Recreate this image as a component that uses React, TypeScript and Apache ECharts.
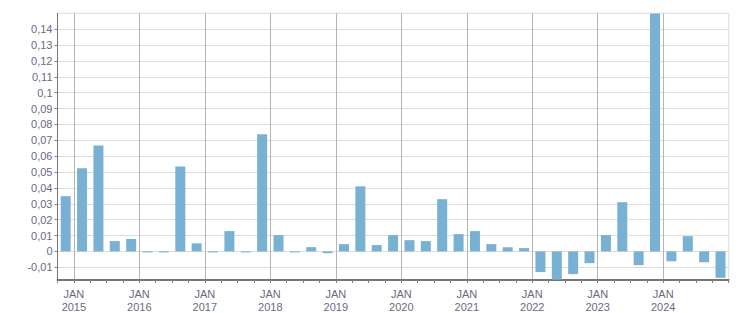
import React, { useEffect, useRef } from "react";
import * as echarts from "echarts";

// Quarterly periods, Q4 2014 .. Q4 2024
const quarters = [
  "2014Q4",
  "2015Q1", "2015Q2", "2015Q3", "2015Q4",
  "2016Q1", "2016Q2", "2016Q3", "2016Q4",
  "2017Q1", "2017Q2", "2017Q3", "2017Q4",
  "2018Q1", "2018Q2", "2018Q3", "2018Q4",
  "2019Q1", "2019Q2", "2019Q3", "2019Q4",
  "2020Q1", "2020Q2", "2020Q3", "2020Q4",
  "2021Q1", "2021Q2", "2021Q3", "2021Q4",
  "2022Q1", "2022Q2", "2022Q3", "2022Q4",
  "2023Q1", "2023Q2", "2023Q3", "2023Q4",
  "2024Q1", "2024Q2", "2024Q3", "2024Q4",
];

const values = [
  0.0348,
  0.0524, 0.0668, 0.0065, 0.0078,
  -0.0004, -0.0004, 0.0535, 0.0051,
  -0.0004, 0.0128, -0.0003, 0.0738,
  0.0103, -0.0003, 0.0027, -0.0011,
  0.0046, 0.041, 0.004, 0.0103,
  0.0071, 0.0065, 0.0329, 0.0109,
  0.0128, 0.0046, 0.0027, 0.0021,
  -0.013, -0.0178, -0.0143, -0.0074,
  0.0103, 0.031, -0.0086, 0.1498,
  -0.0062, 0.0096, -0.0068, -0.0166,
];

const yTickValues = [
  -0.01, 0, 0.01, 0.02, 0.03, 0.04, 0.05, 0.06, 0.07, 0.08, 0.09, 0.1, 0.11,
  0.12, 0.13, 0.14,
];

export default function App() {
  const ref = useRef<HTMLDivElement>(null);

  useEffect(() => {
    if (!ref.current) return;
    const chart = echarts.init(ref.current, undefined, { renderer: "svg" });

    const n = quarters.length;
    const quarterBoundaries = Array.from({ length: n + 1 }, (_, i) => i);
    const janPositions: number[] = [];
    const janLabelMap: Record<number, string> = {};
    quarters.forEach((q, i) => {
      if (q.endsWith("Q1")) {
        janPositions.push(i);
        janLabelMap[i] = q.slice(0, 4);
      }
    });

    const labelColor = "#6a6a80";
    const font = "Liberation Sans";

    chart.setOption({
      animation: false,
      grid: {
        left: 57.5,
        right: 22.3,
        top: 13.3,
        bottom: 32,
        show: true,
        borderColor: "#dcdcdc",
        borderWidth: 1,
        containLabel: false,
      },
      xAxis: [
        {
          type: "value",
          min: 0,
          max: n,
          position: "bottom",
          axisLine: { show: true, onZero: false, lineStyle: { color: "#777777", width: 2 } },
          axisTick: {
            show: true,
            length: 3,
            customValues: quarterBoundaries,
            lineStyle: { color: "#808080", width: 1 },
          },
          axisLabel: {
            show: true,
            customValues: janPositions,
            formatter: (v: number) => `JAN\n${janLabelMap[Math.round(v)] ?? ""}`,
            color: labelColor,
            fontFamily: font,
            fontSize: 11,
            lineHeight: 13,
            margin: 7,
          },
          splitLine: { show: false },
        },
        {
          type: "value",
          min: 0,
          max: n,
          position: "top",
          axisLine: { show: false },
          axisTick: { show: false, customValues: janPositions },
          axisLabel: { show: false },
          splitLine: { show: true, lineStyle: { color: "#b4b4b4", width: 1 } },
        },
      ],
      yAxis: {
        type: "value",
        min: -0.018,
        max: 0.15,
        axisLine: { show: true, lineStyle: { color: "#777777", width: 1 } },
        axisTick: {
          show: true,
          length: 3,
          customValues: yTickValues,
          lineStyle: { color: "#808080" },
        },
        axisLabel: {
          customValues: yTickValues,
          formatter: (v: number) => String(Math.round(v * 100) / 100).replace(".", ","),
          color: labelColor,
          fontFamily: font,
          fontSize: 11,
          margin: 5,
        },
        splitLine: { show: true, lineStyle: { color: "#dddddd", width: 1 } },
      },
      series: [
        {
          type: "bar",
          xAxisIndex: 0,
          barWidth: 10,
          barMinHeight: 1,
          itemStyle: { color: "#78b1d4" },
          data: values.map((v, i) => [i + 0.5, v]),
        },
      ],
    });

    return () => chart.dispose();
  }, []);

  return <div ref={ref} style={{ width: 751, height: 313, position: "absolute", left: 0, top: 0 }} />;
}
